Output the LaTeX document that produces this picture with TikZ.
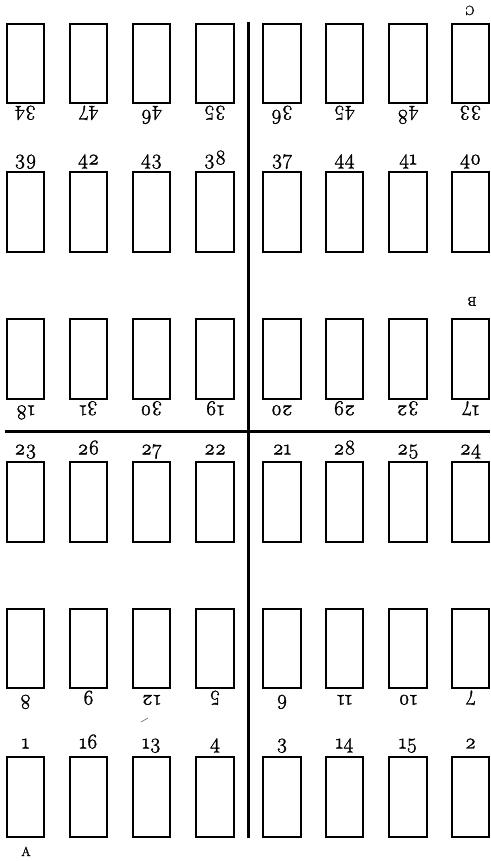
\documentclass[tikz,border=0pt]{standalone}
\usepackage{fontspec}
\setmainfont{Latin Modern Roman}[Numbers=OldStyle]
\newfontfamily\numfont{Latin Modern Roman}[Numbers=OldStyle, FakeBold=1.5]
\begin{document}
\begin{tikzpicture}[x=1pt,y=-1pt,
  box/.style={draw, line width=1.7pt, minimum width=37.5pt, minimum height=79.5pt, inner sep=0pt},
  lab/.style={font=\numfont\fontsize{21}{21}\selectfont, inner sep=0pt, anchor=base},
  letter/.style={font=\numfont\fontsize{13}{13}\selectfont, inner sep=0pt, anchor=base},
  rule/.style={line width=3pt}]
\useasboundingbox (0,0) rectangle (490,861);
\foreach \r/\cy/\labs/\ang/\anc/\dy in {
  1/63.5/{34,47,46,35,36,45,48,33}/180/south/-6,
  2/212/{39,42,43,38,37,44,41,40}/0/north/7,
  3/359/{18,31,30,19,20,29,32,17}/180/south/-6,
  4/502/{23,26,27,22,21,28,25,24}/0/north/7,
  5/648.5/{8,9,12,5,6,11,10,7}/180/south/-6,
  6/797/{1,16,13,4,3,14,15,2}/0/north/8}{
  \foreach \lab [count=\c] in \labs {
    \pgfmathsetmacro\cx{{25.5,88.5,151.5,215,282,344.5,408,470.5}[\c-1]}
    \node[box] (b\r-\c) at (\cx,\cy) {};
    \node[lab, rotate=\ang] (l\r-\c) at ([yshift=\dy pt]b\r-\c.\anc) {\lab};
  }
}
\coordinate (vt) at (248.5,22);
\coordinate (vb) at (248.5,838);
\draw[rule] (vt) -- (vb);
\coordinate (hl) at (5,431);
\coordinate (hr) at (490,431);
\draw[rule] (hl) -- (hr);
\node[letter, rotate=180] (C) at (470,6) {C};
\node[letter, rotate=180] (B) at (472,297) {B};
\node[letter] (A) at (26,856) {A};
\coordinate (s1) at (141,722);
\coordinate (s2) at (148,718);
\draw[gray, line width=0.8pt] (s1) -- (s2);
\end{tikzpicture}
\end{document}
